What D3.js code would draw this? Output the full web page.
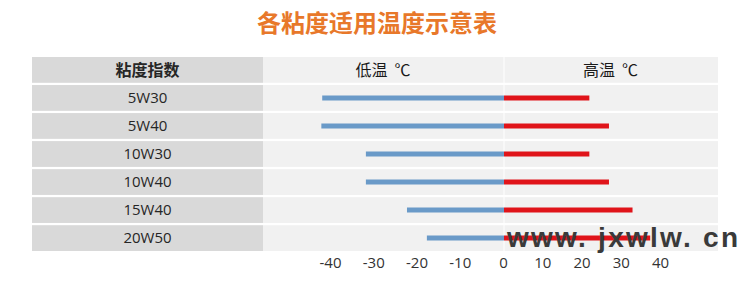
<!DOCTYPE html>
<html>
<head>
<meta charset="utf-8">
<script src="https://cdn.jsdelivr.net/npm/d3@7"></script>
<style>
  body { margin: 0; background: #fff; }
  svg { display: block; }
</style>
</head>
<body>
<div id="vis"></div>
<script>
// data
var grades = ["5W30", "5W40", "10W30", "10W40", "15W40", "20W50"];
var low_temps = [-41.8, -42, -31.7, -31.7, -22.2, -17.6];
var high_temps = [22, 27, 22, 27, 33, 37.5];
var tick_values = [-40, -30, -20, -10, 0, 10, 20, 30, 40];
var title_text = "各粘度适用温度示意表";
var header_labels = ["粘度指数", "低温  ℃", "高温  ℃"];

var width = 750;
var height = 281;
var cjk = "'Noto Sans CJK SC', 'Noto Sans', sans-serif";
var latin = "'Open Sans', 'Noto Sans', sans-serif";

var table = {left: 32, split: 263, right: 718, top: 57, bottom: 251};

var svg = d3.select("#vis").append("svg")
  .attr("width", width)
  .attr("height", height);

// rows: header + one per grade
var y_scale = d3.scaleBand()
  .domain(["header"].concat(grades))
  .range([table.top, table.bottom])
  .paddingInner(0.08)
  .paddingOuter(0);

// the printed ticks are not evenly spaced, left half is wider than right
var x_scale = d3.scaleLinear()
  .domain([-40, 0, 40])
  .range([330, 503, 660]);

svg.append("text")
  .attr("x", 377)
  .attr("y", 32)
  .attr("text-anchor", "middle")
  .style("font-family", cjk)
  .style("font-weight", "bold")
  .style("font-size", "24px")
  .style("fill", "#e8782a")
  .text(title_text);

var rows = svg.selectAll(".row")
  .data(y_scale.domain())
  .enter().append("g")
  .attr("class", "row")
  .attr("transform", d => "translate(0," + y_scale(d) + ")");

rows.append("rect")
  .attr("x", table.left)
  .attr("width", table.split - table.left)
  .attr("height", y_scale.bandwidth())
  .attr("fill", "#d9d9d9");

rows.append("rect")
  .attr("x", table.split)
  .attr("width", table.right - table.split)
  .attr("height", y_scale.bandwidth())
  .attr("fill", "#f1f1f1");

// zero divider
svg.append("line")
  .attr("x1", x_scale(0) + 1).attr("x2", x_scale(0) + 1)
  .attr("y1", table.top).attr("y2", table.bottom)
  .attr("stroke", "#fff")
  .attr("stroke-width", 1);

rows.append("text")
  .attr("x", (table.left + table.split) / 2)
  .attr("y", y_scale.bandwidth() / 2)
  .attr("dy", "0.36em")
  .attr("text-anchor", "middle")
  .style("font-family", d => d == "header" ? cjk : latin)
  .style("font-weight", d => d == "header" ? "bold" : "normal")
  .style("font-size", d => d == "header" ? "16px" : "15px")
  .style("fill", "#262626")
  .text(d => d == "header" ? header_labels[0] : d);

var header_y = y_scale("header") + y_scale.bandwidth() / 2;
svg.selectAll(".head-label")
  .data([[header_labels[1], (table.split + x_scale(0)) / 2], [header_labels[2], (x_scale(0) + table.right) / 2]])
  .enter().append("text")
  .attr("class", "head-label")
  .attr("x", d => d[1])
  .attr("y", header_y)
  .attr("dy", "0.36em")
  .attr("text-anchor", "middle")
  .style("font-family", cjk)
  .style("font-size", "16px")
  .style("white-space", "pre")
  .style("fill", "#1a1a1a")
  .text(d => d[0]);

var bar_data = grades.map(function(g, i) {
  return {key: g, low: low_temps[i], high: high_temps[i]};
});
var bar_width = 5;

svg.selectAll(".low-bar")
  .data(bar_data)
  .enter().append("line")
  .attr("class", "low-bar")
  .attr("x1", d => x_scale(d.low))
  .attr("x2", x_scale(0) + 1)
  .attr("y1", d => y_scale(d.key) + y_scale.bandwidth() / 2)
  .attr("y2", d => y_scale(d.key) + y_scale.bandwidth() / 2)
  .attr("stroke", "#6a9ac8")
  .attr("stroke-width", bar_width);

svg.selectAll(".high-bar")
  .data(bar_data)
  .enter().append("line")
  .attr("class", "high-bar")
  .attr("x1", x_scale(0) + 1)
  .attr("x2", d => x_scale(d.high))
  .attr("y1", d => y_scale(d.key) + y_scale.bandwidth() / 2)
  .attr("y2", d => y_scale(d.key) + y_scale.bandwidth() / 2)
  .attr("stroke", "#e0141a")
  .attr("stroke-width", bar_width);

var x_axis = svg.append("g")
  .attr("transform", "translate(0," + (table.bottom + 6) + ")")
  .call(d3.axisBottom(x_scale).tickValues(tick_values).tickSize(0).tickPadding(0)
    .tickFormat(d => String(d)));
x_axis.select(".domain").remove();
x_axis.selectAll("text")
  .style("font-family", latin)
  .style("font-size", "15px")
  .style("fill", "#333");

// watermark
svg.append("text")
  .attr("x", 507)
  .attr("y", 247)
  .attr("textLength", 231)
  .attr("lengthAdjust", "spacing")
  .style("font-family", "'Liberation Sans', Arial, sans-serif")
  .style("font-weight", "bold")
  .style("font-size", "28px")
  .style("fill", "#3a3a3a")
  .text("www. jxwlw. cn");
</script>
</body>
</html>
